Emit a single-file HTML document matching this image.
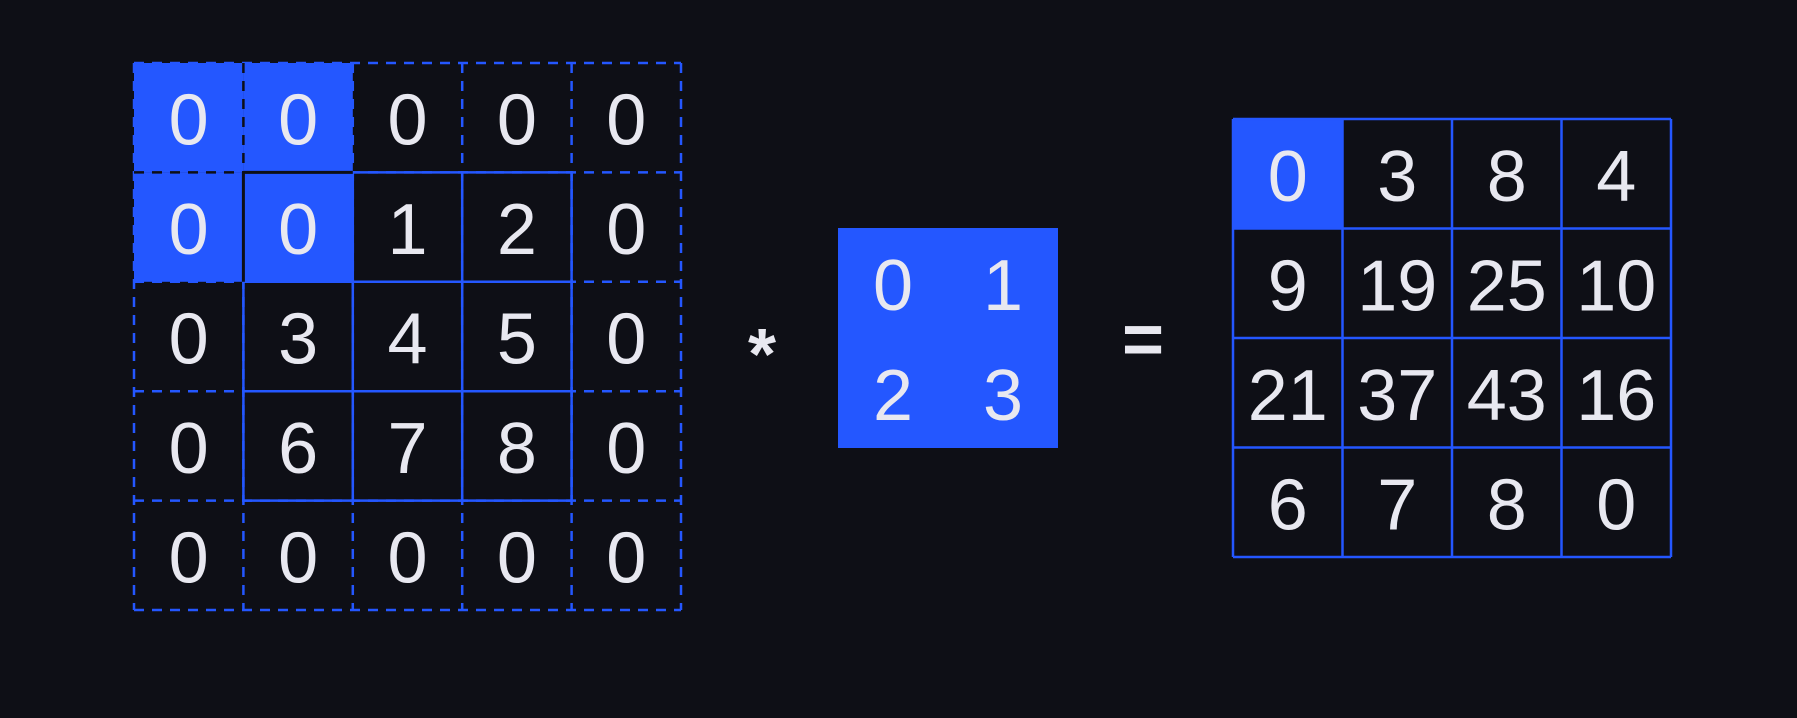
<!DOCTYPE html>
<html><head><meta charset="utf-8"><style>
html,body{margin:0;padding:0;background:#0e0f16;}
svg{display:block;}
text{font-family:"Liberation Sans",sans-serif;fill:#e8e8f0;font-size:72px;text-anchor:middle;dominant-baseline:central;}
</style></head><body>
<svg id="c" width="1797" height="718" viewBox="0 0 1797 718" xmlns="http://www.w3.org/2000/svg"></svg>
<script>
const inputVals=[[0,0,0,0,0],[0,0,1,2,0],[0,3,4,5,0],[0,6,7,8,0],[0,0,0,0,0]];
const kernelVals=[[0,1],[2,3]];
const outputVals=[[0,3,8,4],[9,19,25,10],[21,37,43,16],[6,7,8,0]];
const inHighlight=[[0,0],[0,1],[1,0],[1,1]];
const outHighlight=[[0,0]];
const NS="http://www.w3.org/2000/svg";
const svg=document.getElementById('c');
const BLUE="#2457ff";
function mk(t,a,p){const e=document.createElementNS(NS,t);for(const k in a)e.setAttribute(k,a[k]);(p||svg).appendChild(e);return e;}
function txt(x,y,s,p){const e=mk('text',{x:x,y:y+3},p);e.textContent=s;if(String(s).length>1){e.setAttribute('textLength',80);e.setAttribute('lengthAdjust','spacingAndGlyphs');}return e;}
const ix0=134,iy0=63,cs=109.4;
const gIn=mk('g',{});


inHighlight.forEach(([r,c])=>{const e=mk('rect',{x:ix0+c*cs,y:iy0+r*cs,width:cs,height:cs,fill:BLUE},gIn);

});
const n=inputVals.length;
for(let i=0;i<=n;i++){
 mk('line',{x1:ix0,y1:iy0+i*cs,x2:ix0+n*cs,y2:iy0+i*cs,stroke:BLUE,'stroke-width':2.5,'stroke-dasharray':'10 8'},gIn);
 mk('line',{x1:ix0+i*cs,y1:iy0,x2:ix0+i*cs,y2:iy0+n*cs,stroke:BLUE,'stroke-width':2.5,'stroke-dasharray':'10 8'},gIn);
}
for(let i=1;i<=4;i++){
 mk('line',{x1:ix0+cs,y1:iy0+i*cs,x2:ix0+4*cs,y2:iy0+i*cs,stroke:BLUE,'stroke-width':2.5},gIn);
 mk('line',{x1:ix0+i*cs,y1:iy0+cs,x2:ix0+i*cs,y2:iy0+4*cs,stroke:BLUE,'stroke-width':2.5},gIn);
}
mk('line',{x1:ix0+cs,y1:iy0+cs,x2:ix0+2*cs,y2:iy0+cs,stroke:'#0e0f16','stroke-width':3},gIn);
mk('line',{x1:ix0+cs,y1:iy0+cs,x2:ix0+cs,y2:iy0+2*cs,stroke:'#0e0f16','stroke-width':3},gIn);
mk('line',{x1:ix0,y1:iy0+cs,x2:ix0+cs,y2:iy0+cs,stroke:'#0e0f16','stroke-width':2.5,'stroke-dasharray':'10 8'},gIn);
mk('line',{x1:ix0+cs,y1:iy0,x2:ix0+cs,y2:iy0+cs,stroke:'#0e0f16','stroke-width':2.5,'stroke-dasharray':'10 8'},gIn);
inputVals.forEach((row,r)=>row.forEach((v,c)=>{const t=txt(ix0+c*cs+cs/2,iy0+r*cs+cs/2,v,gIn);

}));
const star=txt(762,352,'*');star.setAttribute('font-size','84');star.setAttribute('font-weight','bold');


const eq=txt(1143,337,'=');eq.setAttribute('font-weight','bold');eq.setAttribute('font-size','64');


const kx0=838,ky0=228,ks=220;
const gK=mk('g',{});


mk('rect',{x:kx0,y:ky0,width:ks,height:ks,fill:BLUE},gK);
kernelVals.forEach((row,r)=>row.forEach((v,c)=>{const t=txt(kx0+ks/4+c*ks/2,ky0+ks/4+r*ks/2,v,gK);

}));
const ox0=1233,oy0=119,os=109.5;
const gO=mk('g',{});


outHighlight.forEach(([r,c])=>{const e=mk('rect',{x:ox0+c*os,y:oy0+r*os,width:os,height:os,fill:BLUE},gO);

});
const m=outputVals.length;
for(let i=0;i<=m;i++){
 mk('line',{x1:ox0,y1:oy0+i*os,x2:ox0+m*os,y2:oy0+i*os,stroke:BLUE,'stroke-width':2.5},gO);
 mk('line',{x1:ox0+i*os,y1:oy0,x2:ox0+i*os,y2:oy0+m*os,stroke:BLUE,'stroke-width':2.5},gO);
}
outputVals.forEach((row,r)=>row.forEach((v,c)=>{const t=txt(ox0+c*os+os/2,oy0+r*os+os/2,v,gO);

}));
</script>
</body></html>
